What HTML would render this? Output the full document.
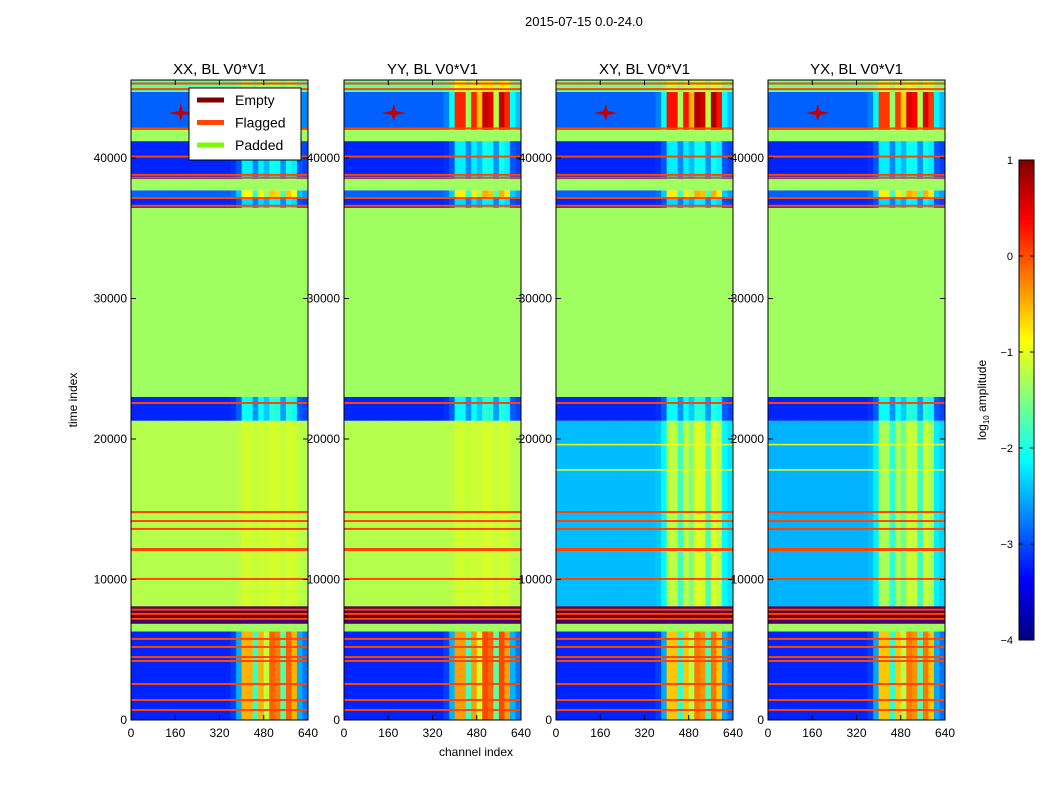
<!DOCTYPE html>
<html><head><meta charset="utf-8">
<style>
body{margin:0;background:#fff;}
#wrap{position:relative;width:1050px;height:800px;font-family:"Liberation Sans",sans-serif;color:#000;overflow:hidden;}
.t{position:absolute;white-space:nowrap;}
</style></head><body>
<div id="wrap">
<div class="t" style="left:525px;top:14px;font-size:13px;">2015-07-15 0.0-24.0</div>
<svg id="svg" width="1050" height="800" style="position:absolute;left:0;top:0"></svg>
</div>
<script>
// ---- data ----
const panelTitles = ["XX, BL V0*V1","YY, BL V0*V1","XY, BL V0*V1","YX, BL V0*V1"];
const xTicks = [0,160,320,480,640];
const yTicks = [0,10000,20000,30000,40000];
const cbTicks = [1,0,-1,-2,-3,-4];
const tMax = 45550;
const bandStart = [0,6300,6850,8100,21300,23000,36450,37150,37700,38500,41200,42000,44700];
const bandEnd   = [6300,6850,8100,21300,23000,36450,37150,37700,38500,41200,42000,44700,45550];
const bandKind  = ['d','p','d','d','d','p','d','d','p','d','p','d','d'];
const bgXX = [-3.2,0,-3.7,-1.25,-3.2,0,-3.2,-2.9,0,-3.2,0,-2.9,-1.7];
const bgYY = [-3.2,0,-3.7,-1.25,-3.2,0,-3.2,-2.9,0,-3.2,0,-2.9,-1.7];
const bgXY = [-3.2,0,-3.7,-2.45,-3.2,0,-3.2,-2.9,0,-3.2,0,-2.9,-1.6];
const bgYX = [-3.2,0,-3.7,-2.5,-3.2,0,-3.2,-2.9,0,-3.2,0,-2.9,-1.6];
const rfiXX = [-0.5,0,-3.4,-1.1,-2.1,0,-2.3,-0.9,0,-2.2,0,-1.8,-1.4];
const rfiYY = [-0.4,0,-3.4,-1.1,-2.1,0,-2.3,-0.8,0,-2.2,0,0.2,-0.9];
const rfiXY = [-0.6,0,-3.4,-1.2,-2.1,0,-2.3,-0.8,0,-2.2,0,0.3,-1.2];
const rfiYX = [-0.6,0,-3.4,-1.3,-2.1,0,-2.3,-0.8,0,-2.2,0,0.1,-1.2];
const colWeight = [0,0,0,0,0,0,0,0,0,0,0,0,0,0,0,0,0,0,0.05,0.25,1,1,0.5,1,0.75,1.15,1.1,0.55,1.15,1,0.25,0.15];
const flagTimes = [710,1420,2560,4200,4480,5200,5770,7200,7550,7850,10040,12100,12170,13600,14160,14800,22560,36600,37150,38600,38800,40100,42100,44900,45300];
const emptyTimes = [7000,7400,7700,8000];
const brightTimes = [17800,19600];
const starChan = 180, starTime = 43200;
// ---- helpers ----
const panelsX=[131,344,556,768], pW=177, pTop=80, pBot=720;
function xS(c,i){return panelsX[i]+c/640*pW;}
function yS(t){return pBot-t/tMax*(pBot-pTop);}
function jet(v){let x=(v+4)/5;x=Math.max(0,Math.min(1,x));
 const f=(a)=>Math.max(0,Math.min(1,1.5-Math.abs(4*x-a)));
 return `rgb(${Math.round(255*f(3))},${Math.round(255*f(2))},${Math.round(255*f(1))})`;}
const NS="http://www.w3.org/2000/svg";
const svg=document.getElementById('svg');
function el(tag,attrs,parent){const e=document.createElementNS(NS,tag);for(const k in attrs)e.setAttribute(k,attrs[k]);(parent||svg).appendChild(e);return e;}
const bgs=[bgXX,bgYY,bgXY,bgYX], rfis=[rfiXX,rfiYY,rfiXY,rfiYX];
for(let p=0;p<4;p++){
 const g=el('g',{});
 
 
 for(let b=0;b<bandStart.length;b++){
  const y0=yS(bandEnd[b]), y1=yS(bandStart[b]);
  if(bandKind[b]==='p'){
   const r=el('rect',{x:xS(0,p),y:y0,width:pW,height:y1-y0,fill:'#a0ff60'},g);
   
   
   continue;}
  for(let c=0;c<32;c++){
   const w=colWeight[c];
   const v=bgs[p][b]+w*(rfis[p][b]-bgs[p][b]);
   const r=el('rect',{x:xS(c*20,p),y:y0,width:pW/32+0.4,height:y1-y0,fill:jet(v)},g);
   
   
  }
 }
 flagTimes.forEach(t=>{const r=el('rect',{x:xS(0,p),y:yS(t)-1,width:pW,height:2,fill:'#ff4500'},g);
  
  });
 emptyTimes.forEach(t=>{const r=el('rect',{x:xS(0,p),y:yS(t)-1,width:pW,height:2,fill:'#800000'},g);
  
  });
 if(p>=2) brightTimes.forEach(t=>{const r=el('rect',{x:xS(0,p),y:yS(t)-0.75,width:pW,height:1.5,fill:'#e8ff20'},g);
  
  });
 const sx=xS(starChan,p), sy=yS(starTime);
 const st=el('polygon',{points:`${sx-12},${sy} ${sx-2},${sy-2} ${sx},${sy-10} ${sx+2},${sy-2} ${sx+12},${sy} ${sx+2},${sy+2} ${sx},${sy+8} ${sx-2},${sy+2}`,fill:'#c00000'},g);
 
 
 const fr=el('rect',{x:panelsX[p],y:pTop,width:pW,height:pBot-pTop,fill:'none',stroke:'#000','stroke-width':1},g);
 
 
 xTicks.forEach(v=>{const x=xS(v,p);
  el('line',{x1:x,y1:pBot,x2:x,y2:pBot-5,stroke:'#000'},g);
  el('line',{x1:x,y1:pTop,x2:x,y2:pTop+5,stroke:'#000'},g);
  const tx=el('text',{x:x,y:pBot+17,'font-size':12,'text-anchor':'middle','font-family':'Liberation Sans'},g);
  tx.textContent=v;
  
  });
 yTicks.forEach(v=>{const y=yS(v);
  el('line',{x1:panelsX[p],y1:y,x2:panelsX[p]+5,y2:y,stroke:'#000'},g);
  el('line',{x1:panelsX[p]+pW,y1:y,x2:panelsX[p]+pW-5,y2:y,stroke:'#000'},g);
  const tx=el('text',{x:panelsX[p]-4,y:y+4,'font-size':12,'text-anchor':'end','font-family':'Liberation Sans'},g);
  tx.textContent=v;
  
  });
 const tt=el('text',{x:panelsX[p]+pW/2,y:74,'font-size':15,'text-anchor':'middle','font-family':'Liberation Sans'},g);
 tt.textContent=panelTitles[p];
 
 
}
let t=el('text',{x:476,y:756,'font-size':12,'text-anchor':'middle','font-family':'Liberation Sans'});
t.textContent='channel index';


t=el('text',{x:77,y:400,'font-size':12,'text-anchor':'middle','font-family':'Liberation Sans',transform:'rotate(-90 77 400)'});
t.textContent='time index';


const lg=el('g',{});


el('rect',{x:189,y:88,width:112,height:72,fill:'#fff',stroke:'#000'},lg);
const legNames=['Empty','Flagged','Padded'], legCols=['#800000','#ff4500','#7cfc00'];
legNames.forEach((n,i)=>{const y=100+i*22.5;
 const l=el('rect',{x:197,y:y-2.5,width:27,height:5,fill:legCols[i]},lg);
 
 
 const tx=el('text',{x:235,y:y+5,'font-size':14,'font-family':'Liberation Sans'},lg);
 tx.textContent=n;
 
 });
const cb=el('g',{});


const cbT=160, cbB=640, cbX=1019, cbW=15;
for(let i=0;i<120;i++){const v=1-5*i/120;
 el('rect',{x:cbX,y:cbT+i*(cbB-cbT)/120,width:cbW,height:(cbB-cbT)/120+0.5,fill:jet(v-5/240)},cb);}
el('rect',{x:cbX,y:cbT,width:cbW,height:cbB-cbT,fill:'none',stroke:'#000'},cb);
cbTicks.forEach(v=>{const y=cbT+(1-v)/5*(cbB-cbT);
 el('line',{x1:cbX,y1:y,x2:cbX+4,y2:y,stroke:'#000'},cb);
 el('line',{x1:cbX+cbW,y1:y,x2:cbX+cbW-4,y2:y,stroke:'#000'},cb);
 const tx=el('text',{x:1013,y:y+4,'font-size':11,'text-anchor':'end','font-family':'Liberation Sans'},cb);
 tx.textContent=v<0?'\u2212'+(-v):String(v);
 
 });
t=el('text',{x:986,y:400,'font-size':12,'text-anchor':'middle','font-family':'Liberation Sans',transform:'rotate(-90 986 400)'},cb);
t.innerHTML='log<tspan font-size="8" dy="3">10</tspan><tspan dy="-3"> amplitude</tspan>';


</script>
</body></html>
